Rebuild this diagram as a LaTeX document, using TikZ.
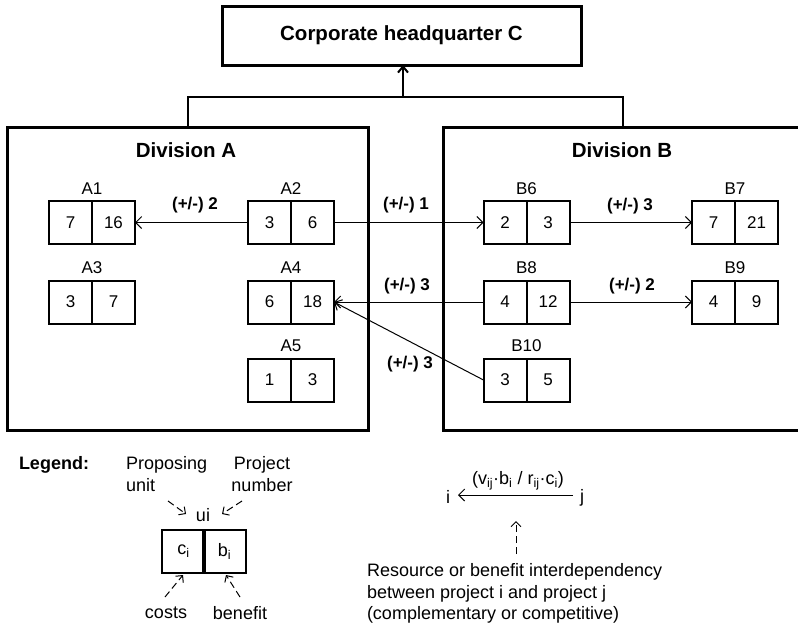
\documentclass[tikz,border=0pt]{standalone}
\usepackage{fontspec}
\setmainfont{Liberation Sans}
\usetikzlibrary{arrows.meta}

\tikzset{
  every node/.style={inner sep=0pt, outer sep=0pt},
  division/.style={draw, line width=3pt},
  hqbox/.style={draw, line width=3pt},
  cell/.style={draw, line width=2pt, minimum width=43pt, minimum height=43pt, font=\fontsize{17}{20}\selectfont},
  projlabel/.style={font=\fontsize{17}{20}\selectfont},
  link/.style={line width=1pt, -{Straight Barb[length=6pt,width=12pt,line width=1pt]}},
  linklabel/.style={font=\fontsize{17}{20}\selectfont\bfseries},
  pointer/.style={line width=1pt, dash pattern=on 7pt off 4pt, -{Straight Barb[length=5pt,width=10pt,line width=1pt]}},
  legtext/.style={font=\fontsize{18}{21.5}\selectfont},
}

% project box: name, centre x, centre y, label, cost, benefit
\newcommand\projectbox[6]{%
  \node[cell] (#1c) at (#2-21.5,#3) {#5};
  \node[cell] (#1b) at (#2+21.5,#3) {#6};
  \node[projlabel] (#1l) at (#2,#3-34) {#4};
}

\begin{document}
\begin{tikzpicture}[x=1pt,y=-1pt]
\useasboundingbox (0,0) rectangle (798,624);

% headquarter and divisions
\node[hqbox, minimum width=359pt, minimum height=59pt, font=\fontsize{20.5}{24}\selectfont\bfseries] (HQ) at (401.5,35.5) {Corporate headquarter C};
\node[division, minimum width=361pt, minimum height=303pt] (DA) at (187.5,278.5) {};
\node[division, minimum width=360pt, minimum height=303pt] (DB) at (623,278.5) {};
\node[font=\fontsize{20.5}{24}\selectfont\bfseries] (DAt) at (186,150) {Division A};
\node[font=\fontsize{20.5}{24}\selectfont\bfseries] (DBt) at (622,150) {Division B};

\coordinate (J) at (403,97);
\draw[line width=2pt] (DA.north) |- (J) -| (DB.north);
\draw[line width=2pt, -{Straight Barb[length=6pt,width=10pt,line width=2pt]}] (J) -- (HQ.south -| J);

% projects
\projectbox{A1}{92}{222.5}{A1}{7}{16}
\projectbox{A2}{291}{222.5}{A2}{3}{6}
\projectbox{A3}{92}{302}{A3}{3}{7}
\projectbox{A4}{291}{302}{A4}{6}{18}
\projectbox{A5}{291}{380}{A5}{1}{3}
\projectbox{B6}{526.5}{222.5}{B6}{2}{3}
\projectbox{B7}{735}{222.5}{B7}{7}{21}
\projectbox{B8}{526.5}{302}{B8}{4}{12}
\projectbox{B9}{735}{302}{B9}{4}{9}
\projectbox{B10}{526.5}{380}{B10}{3}{5}

% interdependencies
\draw[link] (A2c.west) -- (A1b.east);
\draw[link] (A2b.east) -- (B6c.west);
\draw[link] (B6b.east) -- (B7c.west);
\draw[link] (B8c.west) -- (A4b.east);
\draw[link] (B8b.east) -- (B9c.west);
\draw[link] (B10c.west) -- (A4b.east);

\node[linklabel] (l1) at (195,205) {(+/-) 2};
\node[linklabel] (l2) at (406,205) {(+/-) 1};
\node[linklabel] (l3) at (630,206) {(+/-) 3};
\node[linklabel] (l4) at (407,286) {(+/-) 3};
\node[linklabel] (l5) at (632,286) {(+/-) 2};
\node[linklabel] (l6) at (410,364) {(+/-) 3};

% legend
\node[font=\fontsize{18}{21.5}\selectfont\bfseries] (leg) at (54,465) {Legend:};
\node[legtext, align=left, anchor=west] (pu) at (126,474) {Proposing\\unit};
\node[legtext, align=center] (pn) at (262,474) {Project\\number};
\node[legtext] (ui) at (203,515) {ui};
\node[cell, font=\fontsize{18}{21.5}\selectfont] (Lc) at (183.5,551.5) {c\textsubscript{i}};
\node[cell, font=\fontsize{18}{21.5}\selectfont] (Lb) at (224.5,551.5) {b\textsubscript{i}};
\node[legtext] (co) at (166,613) {costs};
\node[legtext] (be) at (240,613) {benefit};

\coordinate (p1) at (168,501);
\coordinate (p2) at (242,501);
\coordinate (p3) at (165,597);
\coordinate (p4) at (240,597);
\draw[pointer] (p1) -- (186,514);
\draw[pointer] (p2) -- (222,514);
\draw[pointer] (p3) -- (183,575);
\draw[pointer] (p4) -- (226,575);

\node[legtext] (ni) at (448,497) {i};
\node[legtext] (nj) at (582,498) {j};
\coordinate (js) at (573,495);
\coordinate (is) at (458,495);
\draw[link] (js) -- (is);
\node[legtext] (dep) at (518,481) {(v\textsubscript{ij}·b\textsubscript{i} / r\textsubscript{ij}·c\textsubscript{i})};
\coordinate (q) at (516,554);
\draw[pointer] (q) -- (516,521);
\node[legtext, align=left, anchor=west] (expl) at (367,593.5) {Resource or benefit interdependency\\between project i and project j\\(complementary or competitive)};
\end{tikzpicture}
\end{document}
